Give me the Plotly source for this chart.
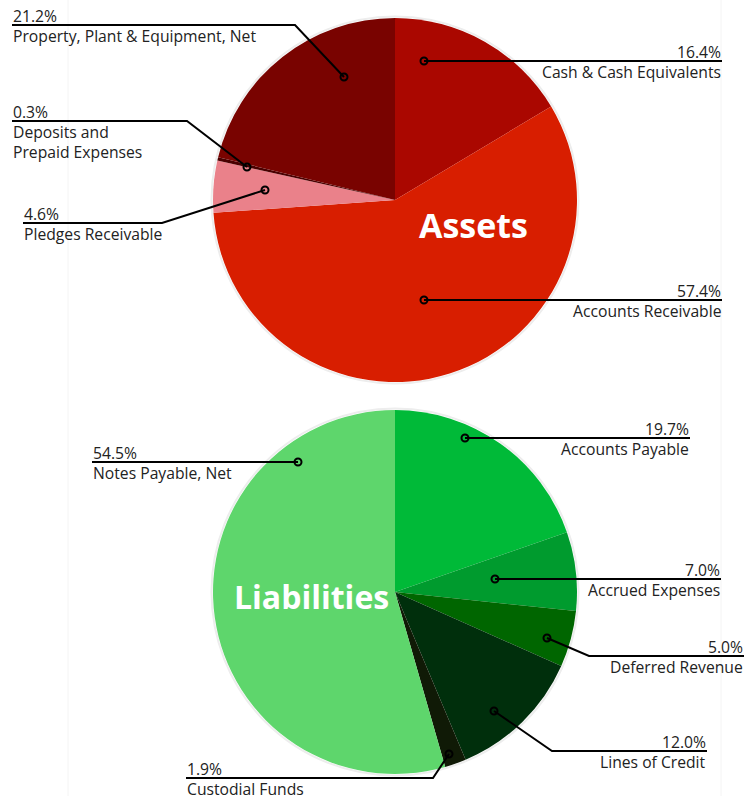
import plotly.graph_objects as go

W, H = 754, 796

# ---- data ----
asset_labels = ["Cash & Cash Equivalents", "Accounts Receivable", "Pledges Receivable",
                "Deposits and<br>Prepaid Expenses", "Property, Plant & Equipment, Net"]
asset_values = [16.4, 57.4, 4.6, 0.3, 21.2]
asset_colors = ["#AA0700", "#D81E00", "#EA818A", "#4A0000", "#790300"]

liab_labels = ["Accounts Payable", "Accrued Expenses", "Deferred Revenue",
               "Lines of Credit", "Custodial Funds", "Notes Payable, Net"]
liab_values = [19.7, 7.0, 5.0, 12.0, 1.9, 54.5]
liab_colors = ["#00BA38", "#009B2E", "#006600", "#002F0C", "#101A06", "#5ED66C"]

# ---- layout of the callouts (pixel positions): dot, elbow, line end, side ----
asset_callouts = [
    ((424, 61), None, 722, "right"),
    ((424, 300), None, 722, "right"),
    ((265, 190), (162, 223), 23, "left"),
    ((247, 167), (187, 121), 12, "left"),
    ((344, 77), (295, 25), 12, "left"),
]
liab_callouts = [
    ((465, 438), None, 690, "right"),
    ((495, 579), None, 721, "right"),
    ((547, 638), (589, 656), 744, "right"),
    ((494, 711), (552, 751), 707, "right"),
    ((449, 754), (433, 778), 186, "left"),
    ((298, 462), None, 92, "left"),
]

R = 182
centers = [(395, 200), (395, 592)]

fig = go.Figure()


def domain(cx, cy):
    return dict(x=[(cx - R) / W, (cx + R) / W], y=[1 - (cy + R) / H, 1 - (cy - R) / H])


for (cx, cy), labels, values, colors in [
    (centers[0], asset_labels, asset_values, asset_colors),
    (centers[1], liab_labels, liab_values, liab_colors),
]:
    fig.add_trace(go.Pie(
        labels=labels, values=values, sort=False, direction="clockwise", rotation=0,
        marker=dict(colors=colors, line=dict(width=0)),
        textinfo="none", hoverinfo="label+percent", showlegend=False,
        domain=domain(cx, cy),
    ))

shapes = []
annotations = []
font = dict(family="Open Sans", size=15.7, color="#222222")

# faint page guides
for gx in [68, 721]:
    shapes.append(dict(type="line", xref="x", yref="y", x0=gx, x1=gx, y0=0, y1=H,
                       line=dict(color="#F4F4F4", width=1), layer="below"))
# soft outline around pies
for cx, cy in centers:
    shapes.append(dict(type="circle", xref="x", yref="y", x0=cx - R - 1.5, x1=cx + R + 1.5,
                       y0=cy - R - 1.5, y1=cy + R + 1.5,
                       line=dict(color="#EDEDED", width=2), layer="below"))

for labels, values, callouts in [(asset_labels, asset_values, asset_callouts),
                                 (liab_labels, liab_values, liab_callouts)]:
    for lab, val, (dot, elbow, xend, side) in zip(labels, values, callouts):
        pts = [dot]
        if elbow is not None:
            pts.append(elbow)
            ly = elbow[1]
        else:
            ly = dot[1]
        pts.append((xend, ly))
        path = "M " + " L ".join(f"{x},{y}" for x, y in pts)
        shapes.append(dict(type="path", xref="x", yref="y", path=path,
                           line=dict(color="#000000", width=2), layer="above"))
        r = 3.5
        shapes.append(dict(type="circle", xref="x", yref="y",
                           x0=dot[0] - r, x1=dot[0] + r, y0=dot[1] - r, y1=dot[1] + r,
                           line=dict(color="#000000", width=2), layer="above"))
        anchor = "right" if side == "right" else "left"
        annotations.append(dict(x=xend, y=ly + 3, xref="x", yref="y", text=f"{val:.1f}%",
                                showarrow=False, xanchor=anchor, yanchor="bottom",
                                align=anchor, font=font, borderpad=0))
        annotations.append(dict(x=xend, y=ly - 1, xref="x", yref="y", text=lab,
                                showarrow=False, xanchor=anchor, yanchor="top",
                                align=anchor, font=font, borderpad=0))

annotations.append(dict(x=473, y=225, xref="x", yref="y", text="<b>Assets</b>",
                        showarrow=False, font=dict(family="Open Sans", size=34, color="#FFFFFF"),
                        xanchor="center", yanchor="middle"))
annotations.append(dict(x=311, y=596, xref="x", yref="y", text="<b>Liabilities</b>",
                        showarrow=False, font=dict(family="Open Sans", size=32, color="#FFFFFF"),
                        xanchor="center", yanchor="middle"))

fig.update_layout(
    width=W, height=H, margin=dict(l=0, r=0, t=0, b=0),
    paper_bgcolor="#FFFFFF", plot_bgcolor="rgba(0,0,0,0)",
    xaxis=dict(range=[0, W], visible=False, fixedrange=True, domain=[0, 1]),
    yaxis=dict(range=[H, 0], visible=False, fixedrange=True, domain=[0, 1]),
    shapes=shapes, annotations=annotations, showlegend=False,
)

fig.write_html("out.html", config={"displayModeBar": False},
               post_script="document.body.style.margin='0';document.body.style.overflow='hidden';")
